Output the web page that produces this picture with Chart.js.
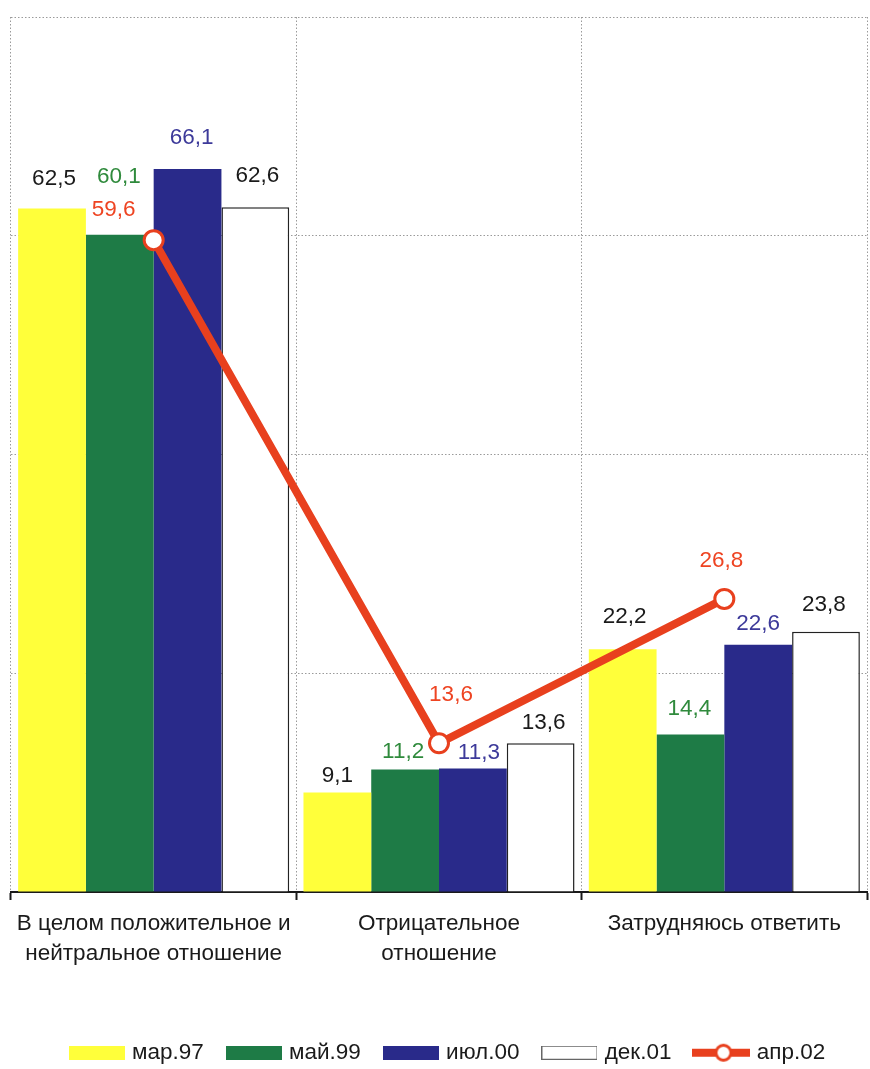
<!DOCTYPE html>
<html>
<head>
<meta charset="utf-8">
<script src="https://cdn.jsdelivr.net/npm/chart.js@4/dist/chart.umd.min.js"></script>
<style>
  html, body { margin: 0; padding: 0; background: #ffffff; }
  #chart { display: block; }
</style>
</head>
<body>
<canvas id="chart" width="870" height="1069"></canvas>
<script>
// Categories (multi-line tick labels) and survey waves
const categories = [
  ['В целом положительное и', 'нейтральное отношение'],
  ['Отрицательное', 'отношение'],
  ['Затрудняюсь ответить']
];
const seriesNames = ['мар.97', 'май.99', 'июл.00', 'дек.01', 'апр.02'];

// Values, % of respondents
const mar97 = [62.5, 9.1, 22.2];
const may99 = [60.1, 11.2, 14.4];
const jul00 = [66.1, 11.3, 22.6];
const dec01 = [62.6, 13.6, 23.8];
const apr02 = [59.6, 13.6, 26.8];

// Value axis
const yMin = 0;
const yMax = 80;
const yStep = 20;

// Styling
const FONT = '"Liberation Sans", Arial, Helvetica, sans-serif';
const FONT_SIZE = 22.5;
const barFill = ['#ffff3a', '#1e7b46', '#292a8a', '#ffffff'];
const lineRed = '#e8401e';
const gridGrey = '#9a9a9a';
const valueColors = ['#1a1a1a', '#2f8a3c', '#3d3a9a', '#1a1a1a', '#ee4422'];
// Per-label nudges [dx, dy] from the top of each mark, so labels clear each other
const labelShift = [
  [[2, -30], [0, -17], [2, -32]],
  [[-1, -58], [-2, -18], [-1, -26]],
  [[4, -31], [6, -16], [0, -21]],
  [[2, -32], [3, -20], [-2, -27]],
  [[-40, -30], [12, -48], [-3, -38]]
];
// Horizontal offset of the legend row from the centre
const legendOffsetX = 10;

Chart.defaults.font.family = FONT;
Chart.defaults.font.size = FONT_SIZE;
Chart.defaults.color = '#1a1a1a';

// Legend swatches
function boxSwatch(fill, stroke) {
  const c = document.createElement('canvas');
  c.width = 56; c.height = 14;
  const g = c.getContext('2d');
  g.fillStyle = fill;
  g.fillRect(0, 0, 56, 14);
  if (stroke) {
    g.strokeStyle = stroke;
    g.lineWidth = 1;
    g.strokeRect(0.5, 0.5, 55, 13);
  }
  return c;
}
function lineSwatch() {
  const c = document.createElement('canvas');
  c.width = 58; c.height = 22;
  const g = c.getContext('2d');
  g.strokeStyle = lineRed;
  g.lineWidth = 8;
  g.beginPath(); g.moveTo(0, 11); g.lineTo(58, 11); g.stroke();
  g.beginPath(); g.arc(31, 11, 7.5, 0, Math.PI * 2);
  g.fillStyle = '#ffffff'; g.fill();
  g.lineWidth = 3; g.stroke();
  return c;
}

const fmt = v => v.toFixed(1).replace('.', ',');

const valueLabels = {
  id: 'valueLabels',
  afterDatasetsDraw(chart) {
    const ctx = chart.ctx;
    ctx.save();
    ctx.font = FONT_SIZE + 'px ' + FONT;
    ctx.textAlign = 'center';
    ctx.textBaseline = 'middle';
    chart.data.datasets.forEach((ds, d) => {
      const meta = chart.getDatasetMeta(d);
      meta.data.forEach((el, i) => {
        const [dx, dy] = labelShift[d][i];
        ctx.fillStyle = valueColors[d];
        ctx.fillText(fmt(ds.data[i]), el.x + dx, el.y + dy);
      });
    });
    ctx.restore();
  }
};

// Shifts the legend row sideways after layout
const legendShift = {
  id: 'legendShift',
  afterLayout(chart) {
    if (chart.legend) {
      chart.legend.left += legendOffsetX;
      chart.legend.right += legendOffsetX;
    }
  }
};

const barSet = (label, data, i) => ({
  type: 'bar',
  label,
  data,
  order: 1,
  backgroundColor: barFill[i],
  borderColor: i === 3 ? '#222222' : barFill[i],
  borderWidth: i === 3 ? 1.5 : 0,
  categoryPercentage: 0.95,
  barPercentage: 1.0
});

new Chart(document.getElementById('chart'), {
  type: 'bar',
  data: {
    labels: categories,
    datasets: [
      barSet(seriesNames[0], mar97, 0),
      barSet(seriesNames[1], may99, 1),
      barSet(seriesNames[2], jul00, 2),
      barSet(seriesNames[3], dec01, 3),
      {
        type: 'line',
        label: seriesNames[4],
        data: apr02,
        order: -1,
        borderColor: lineRed,
        borderWidth: 8,
        tension: 0,
        pointRadius: 9.5,
        pointBorderWidth: 3,
        pointBackgroundColor: '#ffffff',
        pointBorderColor: lineRed
      }
    ]
  },
  options: {
    responsive: false,
    animation: false,
    devicePixelRatio: 1,
    layout: { autoPadding: false, padding: { left: 11, right: 3, top: 17, bottom: -5 } },
    scales: {
      x: {
        offset: true,
        grid: {
          offset: true,
          color: gridGrey,
          lineWidth: 1,
          drawTicks: true,
          tickLength: 8,
          tickColor: '#1a1a1a',
          tickWidth: 2,
          tickBorderDash: []
        },
        border: { display: true, color: '#1a1a1a', width: 2, dash: [1.5, 2] },
        ticks: {
          color: '#1a1a1a',
          font: { size: FONT_SIZE, lineHeight: 1.34 },
          padding: 9,
          maxRotation: 0,
          autoSkip: false
        },
        afterFit(scale) { scale.height = 123.5; }
      },
      y: {
        min: yMin,
        max: yMax,
        ticks: { stepSize: yStep, display: false },
        grid: {
          color: gridGrey,
          lineWidth: 1,
          drawTicks: false
        },
        border: { display: false, dash: [1.5, 2] }
      }
    },
    plugins: {
      tooltip: { enabled: false },
      legend: {
        position: 'bottom',
        labels: {
          usePointStyle: true,
          pointStyleWidth: 48,
          boxHeight: 20,
          padding: 26,
          color: '#1a1a1a',
          font: { size: FONT_SIZE },
          generateLabels(chart) {
            return chart.data.datasets.map((ds, i) => ({
              text: ds.label,
              datasetIndex: i,
              hidden: false,
              fillStyle: i < 4 ? barFill[i] : '#ffffff',
              strokeStyle: i < 4 ? barFill[i] : lineRed,
              lineWidth: 0,
              pointStyle: i < 4 ? boxSwatch(barFill[i], i === 3 ? '#666666' : null) : lineSwatch(),
              fontColor: '#1a1a1a'
            }));
          }
        }
      }
    }
  },
  plugins: [valueLabels, legendShift]
});
</script>
</body>
</html>
